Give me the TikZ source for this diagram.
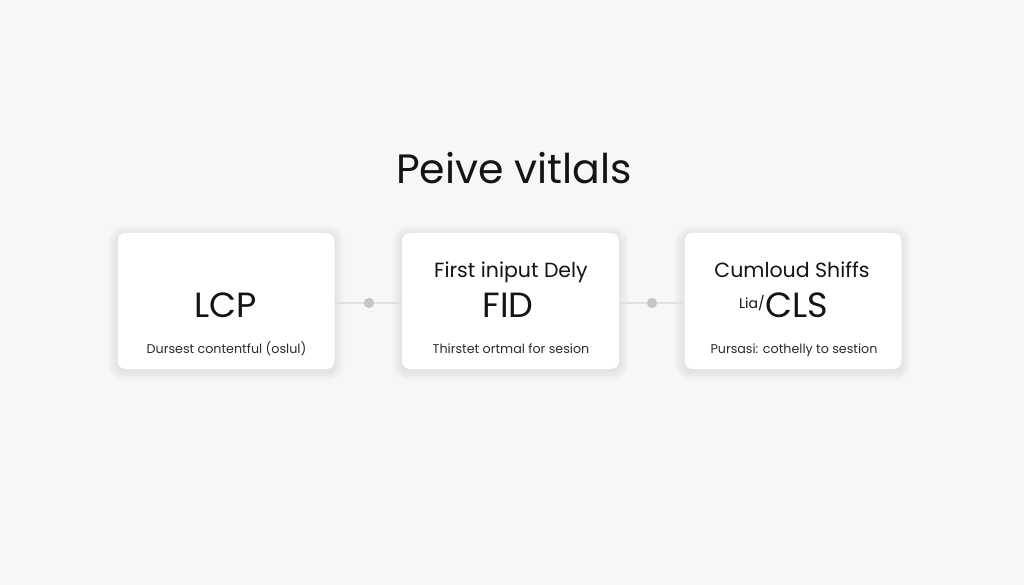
\documentclass[tikz,border=0pt]{standalone}
\usepackage{fontspec}
\setmainfont{Poppins}
\pgfdeclarelayer{bgl}
\pgfdeclarelayer{shl}
\pgfsetlayers{bgl,shl,main}
\definecolor{bg}{HTML}{F7F7F7}
\definecolor{ink}{HTML}{141414}
\definecolor{subink}{HTML}{2B2B2B}
\definecolor{linec}{HTML}{E0E0E0}
\definecolor{dotc}{HTML}{C6C6C6}
\begin{document}
\begin{tikzpicture}[x=1pt,y=-1pt,
  card/.style={draw=none,fill=white,rounded corners=8pt,minimum width=217pt,minimum height=136pt},
  big/.style={text=ink,font=\fontsize{35}{40}\selectfont,inner sep=0pt,anchor=base},
  head/.style={text=ink,font=\fontsize{20.5}{24}\selectfont,inner sep=0pt,anchor=base},
  sub/.style={text=subink,font=\fontsize{12.7}{15}\selectfont,inner sep=0pt,anchor=base},
  conn/.style={draw=linec,line width=1.2pt},
  dot/.style={circle,fill=dotc,draw=none,minimum size=10pt,inner sep=0pt},
  shad/.style={fill=black,fill opacity=0.008}]
\begin{pgfonlayer}{bgl}
\fill[bg] (0,0) rectangle (1024,585);
\end{pgfonlayer}
\useasboundingbox (0,0) rectangle (1024,585);
\node[text=ink,font=\fontsize{41}{46}\selectfont,inner sep=0pt,anchor=base] (title) at (514,184) {Peive vitlals};
\node[card] (c1) at (226,301) {};
\node[card] (c2) at (510.5,301) {};
\node[card] (c3) at (793,301) {};
\begin{pgfonlayer}{shl}
\foreach \c in {c1,c2,c3}{
  \foreach \i [evaluate=\i as \r using 8+\i] in {1,...,10}{
    \fill[shad,rounded corners=\r pt] ([shift={(-\i,-\i+2)}]\c.north west) rectangle ([shift={(\i,\i+2)}]\c.south east);
  }
}
\end{pgfonlayer}
\node[dot] (d1) at (369,303) {};
\node[dot] (d2) at (652,303) {};
\draw[conn] ([yshift=-2pt]c1.east) -- (d1) -- ([yshift=-2pt]c2.west);
\draw[conn] ([yshift=-2pt]c2.east) -- (d2) -- ([yshift=-2pt]c3.west);
\node[dot] at (d1) {};
\node[dot] at (d2) {};
% card 1
\node[big] (lcp) at (226,317) {LCP};
\node[sub] (s1) at (226.5,353) {Dursest contentful (oslul)};
% card 2
\node[head] (h2) at (511,277) {First iniput Dely};
\node[big] (fid) at (508,317) {FID};
\node[sub] (s2) at (511,353) {Thirstet ortmal for sesion};
% card 3
\node[head] (h3) at (792,277) {Cumloud Shiffs};
\node[big,anchor=base west] (cls) at (765,317) {CLS};
\node[text=ink,font=\fontsize{14}{16}\selectfont,inner sep=0pt,anchor=base east] (lia) at (cls.base west) [yshift=9pt] {Lia/};
\node[sub] (s3) at (794,353) {Pursasi: cothelly to sestion};
\end{tikzpicture}
\end{document}
